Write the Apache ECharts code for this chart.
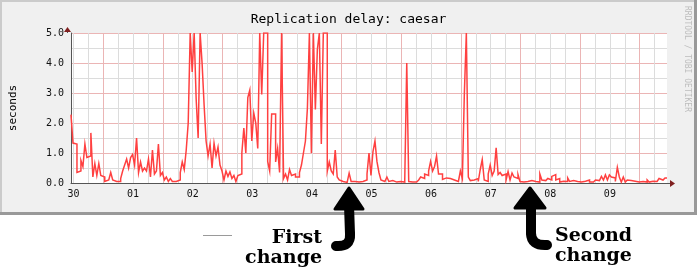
<!DOCTYPE html>
<html>
<head>
<meta charset="utf-8">
<script src="https://cdn.jsdelivr.net/npm/echarts@6/dist/echarts.min.js"></script>
<style>
  html, body { margin: 0; padding: 0; background: #fff; }
  #chart { width: 697px; height: 270px; }
</style>
</head>
<body>
<div id="chart"></div>
<script>
// ---- data ----
const titleText = 'Replication delay: caesar';
const yName = 'seconds';
const dayLabels = ['30', '01', '02', '03', '04', '05', '06', '07', '08', '09'];
const yTickLabels = ['0.0', '1.0', '2.0', '3.0', '4.0', '5.0'];
const startHour = 11;      // chart start, hours after 00:00 on day "30"
const stepHours = 0.8;     // sample spacing (48 min)
// replication delay in seconds, one value per sample (values above 5 are clipped in the picture)
const delay = [
  2.28,1.33,1.3,0.35,0.4,0.75,0.55,1.3,0.85,0.9,
  1.67,0.2,0.65,0.25,0.65,0.25,0.2,0.05,0.1,0.05,
  0.35,0.1,0.05,0.1,0.05,0.15,0.4,0.6,0.8,0.5,
  0.85,0.95,0.6,1.5,0.35,0.7,0.4,0.5,0.4,0.8,
  0.2,1.1,0.3,0.4,1.3,0.25,0.35,0.1,0.2,0.05,
  0.15,0.05,0.05,0.1,0.1,0.35,0.7,0.45,1.1,2.0,
  5,3.7,5,2.8,1.5,5,3.97,2.6,1.4,0.9,
  1.3,0.5,1.33,0.9,1.2,0.6,0.4,0.1,0.4,0.22,
  0.37,0.15,0.25,0.05,0.25,0.3,1.0,1.83,1.0,2.85,
  3.1,1.4,2.33,2.0,1.15,5,2.95,5,5,0.72,
  0.4,2.3,2.3,0.7,1.15,0.35,5,0.15,0.3,0.1,
  0.45,0.25,0.3,0.2,0.2,0.35,0.6,1.0,1.4,2.5,
  5,1.0,5,2.45,4.45,5,1.3,5,5,0.4,
  0.7,0.4,0.3,1.1,0.2,0.1,0.05,0.02,0.02,0.02,
  0.33,0.05,0.05,0.08,0.03,0.05,0.05,0.1,0.1,0.3,
  1.0,0.25,1.05,1.4,0.72,0.35,0.1,0.05,0.05,0.2,
  0.05,0.08,0.05,0.03,0.05,0.05,0.03,0.03,0.1,4.0,
  0.05,0.03,0.03,0.03,0.05,0.1,0.2,0.15,0.3,0.25,
  0.4,0.72,0.4,0.55,0.9,0.3,0.3,0.12,0.17,0.17,
  0.15,0.12,0.1,0.15,0.05,0.1,0.4,0.15,3.0,5,
  0.2,0.08,0.1,0.1,0.15,0.05,0.45,0.78,0.1,0.05,
  0.3,0.6,0.25,0.4,1.17,0.28,0.35,0.25,0.3,0.1,
  0.38,0.1,0.33,0.2,0.15,0.28,0.05,0.03,0.03,0.05,
  0.1,0.08,0.05,0.05,0.1,0.03,0.3,0.1,0.08,0.05,
  0.15,0.1,0.22,0.28,0.1,0.15,0.03,0.06,0.06,0.05,
  0.17,0.05,0.08,0.03,0.05,0.05,0.03,0.03,0.06,0.08,
  0.1,0.03,0.03,0.06,0.1,0.08,0.1,0.22,0.1,0.27,
  0.1,0.27,0.2,0.17,0.05,0.52,0.2,0.03,0.2,0.03,
  0.1,0.08,0.12,0.06,0.08,0.03,0.03,0.05,0.03,0.03,
  0.1,0.03,0.06,0.03,0.05,0.1,0.15,0.1,0.05,0.17
];
const annotations = [['First', 'change'], ['Second', 'change']];
const creditText = 'RRDTOOL / TOBI OETIKER';

// ---- layout / style ----
const G = { left: 67, top: 33, width: 600, height: 150 };
const endHour = startHour + stepHours * delay.length;
const MONO = '"DejaVu Sans Mono", monospace';
const MINOR = '#dcdcdc';
const MAJOR = '#ebb5b5';

// each sample holds its value over its whole interval (RRD-style steps)
const seriesData = delay.map((v, i) => [startHour + stepHours * i, v]);
seriesData.push([endHour, delay[delay.length - 1]]);

// grid hours
const labelHours = dayLabels.map((d, k) => 12 + 24 * k);
const minorLines = [], majorLines = [];
for (let h = Math.ceil(startHour / 6) * 6; h < endHour; h += 6) {
  if (h % 24 === 0) majorLines.push({ xAxis: h });
  else minorLines.push({ xAxis: h });
}

const chart = echarts.init(document.getElementById('chart'), null, { renderer: 'canvas' });

const gx0 = G.left, gy0 = G.top, gx1 = G.left + G.width, gy1 = G.top + G.height;
const serif = 'bold 19px "DejaVu Serif"';
const graphics = [
  { type: 'rect', z: -20, shape: { x: 0, y: 0, width: 697, height: 215 }, style: { fill: '#f0f0f0' } },
  { type: 'rect', z: -19, shape: { x: 0, y: 0, width: 697, height: 2 }, style: { fill: '#cbcbcb' } },
  { type: 'rect', z: -19, shape: { x: 0, y: 0, width: 2, height: 215 }, style: { fill: '#cbcbcb' } },
  { type: 'rect', z: -19, shape: { x: 0, y: 212, width: 697, height: 3 }, style: { fill: '#999999' } },
  { type: 'rect', z: -19, shape: { x: 694, y: 0, width: 3, height: 215 }, style: { fill: '#999999' } },
  // axis extensions + arrows
  { type: 'line', z: 10, shape: { x1: gx1, y1: gy1 + 0.5, x2: gx1 + 4, y2: gy1 + 0.5 }, style: { stroke: '#555', lineWidth: 1 } },
  { type: 'polygon', z: 10, shape: { points: [[gx1 + 3, gy1 - 3], [gx1 + 8, gy1 + 0.5], [gx1 + 3, gy1 + 4]] }, style: { fill: '#7f1f1f' } },
  { type: 'line', z: 10, shape: { x1: gx0 + 0.5, y1: gy0, x2: gx0 + 0.5, y2: gy0 - 3 }, style: { stroke: '#555', lineWidth: 1 } },
  { type: 'polygon', z: 10, shape: { points: [[gx0 - 3, gy0 - 1], [gx0 + 0.5, gy0 - 6], [gx0 + 4, gy0 - 1]] }, style: { fill: '#7f1f1f' } },
  // credit text
  { type: 'text', z: 10, x: 687, y: 6, rotation: -Math.PI / 2,
    style: { text: creditText, font: '8px ' + MONO, fill: '#bdbdbd', align: 'left', verticalAlign: 'middle', textAlign: 'left', textVerticalAlign: 'middle' } },
  // faint artifact line
  { type: 'line', z: 10, shape: { x1: 203, y1: 235.5, x2: 232, y2: 235.5 }, style: { stroke: '#9a9a9a', lineWidth: 1 } },
  // arrow 1
  { type: 'polygon', z: 20, shape: { points: [[349, 188], [335, 209], [363, 209]] }, style: { fill: '#000', stroke: '#000', lineWidth: 3, lineJoin: 'round' } },
  { type: 'line', z: 20, shape: { x1: 349, y1: 205, x2: 350, y2: 234 }, style: { stroke: '#000', lineWidth: 10, lineCap: 'round' } },
  { type: 'bezierCurve', z: 20, shape: { x1: 350, y1: 234, cpx1: 351, cpy1: 247, x2: 336, y2: 246 }, style: { stroke: '#000', fill: null, lineWidth: 10, lineCap: 'round' } },
  // arrow 2
  { type: 'polygon', z: 20, shape: { points: [[530, 188], [515, 208], [545, 208]] }, style: { fill: '#000', stroke: '#000', lineWidth: 3, lineJoin: 'round' } },
  { type: 'line', z: 20, shape: { x1: 531, y1: 204, x2: 531, y2: 233 }, style: { stroke: '#000', lineWidth: 10, lineCap: 'round' } },
  { type: 'bezierCurve', z: 20, shape: { x1: 531, y1: 233, cpx1: 531, cpy1: 246, x2: 547, y2: 245 }, style: { stroke: '#000', fill: null, lineWidth: 10, lineCap: 'round' } },
  // annotation texts
  { type: 'text', z: 20, x: 322, y: 238, style: { text: annotations[0][0], font: serif, fill: '#000', align: 'right', verticalAlign: 'middle', textAlign: 'right', textVerticalAlign: 'middle' } },
  { type: 'text', z: 20, x: 322, y: 258, style: { text: annotations[0][1], font: serif, fill: '#000', align: 'right', verticalAlign: 'middle', textAlign: 'right', textVerticalAlign: 'middle' } },
  { type: 'text', z: 20, x: 555, y: 236, style: { text: annotations[1][0], font: serif, fill: '#000', align: 'left', verticalAlign: 'middle', textAlign: 'left', textVerticalAlign: 'middle' } },
  { type: 'text', z: 20, x: 555, y: 256, style: { text: annotations[1][1], font: serif, fill: '#000', align: 'left', verticalAlign: 'middle', textAlign: 'left', textVerticalAlign: 'middle' } }
];

chart.setOption({
  backgroundColor: '#ffffff',
  animation: false,
  title: {
    text: titleText, left: 'center', top: 8,
    textStyle: { fontFamily: MONO, fontSize: 13, fontWeight: 'normal', color: '#000' }
  },
  grid: { left: G.left, top: G.top, width: G.width, height: G.height, show: true, backgroundColor: '#ffffff', borderWidth: 0, containLabel: false },
  xAxis: {
    type: 'value', min: startHour, max: endHour,
    axisLine: { show: true, onZero: false, lineStyle: { color: '#555', width: 1 } },
    axisTick: { show: false },
    splitLine: { show: false },
    axisLabel: {
      customValues: labelHours,
      formatter: v => dayLabels[Math.round((v - 12) / 24)] ?? '',
      fontFamily: MONO, fontSize: 10, color: '#111', margin: 6,
      showMinLabel: true, showMaxLabel: true, hideOverlap: false
    }
  },
  yAxis: {
    type: 'value', min: 0, max: 5, interval: 1,
    name: yName, nameLocation: 'middle', nameGap: 52,
    nameTextStyle: { fontFamily: MONO, fontSize: 11, color: '#000' },
    axisLine: { show: true, lineStyle: { color: '#555', width: 1 } },
    axisTick: { show: false },
    axisLabel: { formatter: v => yTickLabels[Math.round(v)], fontFamily: MONO, fontSize: 10, color: '#111', margin: 7 },
    splitLine: { show: true, lineStyle: { color: MAJOR, width: 1 } },
    minorTick: { show: false, splitNumber: 2 },
    minorSplitLine: { show: true, lineStyle: { color: MINOR, width: 1 } }
  },
  series: [
    {
      type: 'line', z: 1, silent: true, data: [[startHour, null]], symbol: 'none',
      markLine: {
        silent: true, symbol: ['none', 'none'], label: { show: false }, animation: false, z: 1,
        data: [
          ...minorLines.map(d => ({ ...d, lineStyle: { color: MINOR, width: 1, type: 'solid' } })),
          ...majorLines.map(d => ({ ...d, lineStyle: { color: MAJOR, width: 1, type: 'solid' } }))
        ]
      }
    },
    {
      type: 'line', z: 3, data: seriesData, step: 'end', symbol: 'none', clip: true,
      lineStyle: { color: '#ff4040', width: 1.5, join: 'miter' }
    }
  ],
  graphic: { elements: graphics }
});
</script>
</body>
</html>
